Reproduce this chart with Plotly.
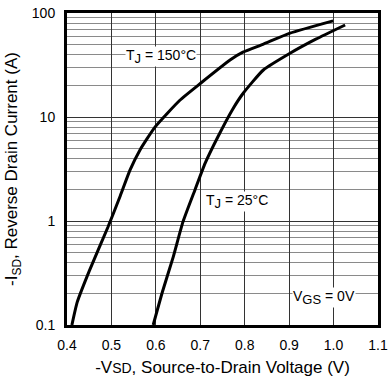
import plotly.graph_objects as go

# 150 C curve
v150 = [0.411, 0.423, 0.45, 0.492, 0.52, 0.542, 0.564, 0.598, 0.654, 0.70, 0.767, 0.796, 0.841, 0.902, 0.999]
i150 = [0.10, 0.166, 0.33, 0.87, 1.75, 3.1, 4.8, 8.0, 14.5, 21.0, 35.3, 42.0, 50.0, 64.0, 84.0]
# 25 C curve
v25 = [0.594, 0.615, 0.639, 0.661, 0.688, 0.711, 0.74, 0.772, 0.797, 0.842, 0.902, 0.96, 1.026]
i25 = [0.10, 0.21, 0.45, 0.98, 1.99, 3.6, 6.5, 11.7, 17.0, 28.3, 41.0, 56.0, 76.7]

xticks = [0.4, 0.5, 0.6, 0.7, 0.8, 0.9, 1.0, 1.1]
xticktext = ["0.4", "0.5", "0.6", "0.7", "0.8", "0.9", "1.0", "1.1"]
yticks = [0.1, 1, 10, 100]
yticktext = ["0.1", "1", "10", "100"]

FONT = "Liberation Sans, Arial, sans-serif"

fig = go.Figure()
fig.add_trace(go.Scatter(x=v150, y=i150, mode="lines",
                         line=dict(color="black", width=3, shape="spline", smoothing=0.5),
                         showlegend=False))
fig.add_trace(go.Scatter(x=v25, y=i25, mode="lines",
                         line=dict(color="black", width=3, shape="spline", smoothing=0.5),
                         showlegend=False))

fig.update_layout(
    width=390, height=383,
    margin=dict(l=67, r=12, t=13, b=58),
    paper_bgcolor="white", plot_bgcolor="white",
    font=dict(family=FONT, color="black", size=12),
    xaxis=dict(
        range=[0.4, 1.1], tickvals=xticks, ticktext=xticktext,
        showgrid=True, gridcolor="#333333", gridwidth=1,
        showline=True, linecolor="black", linewidth=3, mirror=True,
        ticks="", zeroline=False, ticklabelstandoff=5, automargin=False,
        tickfont=dict(size=14),
        title=dict(text="-V<span style='font-size:14px'>SD</span>, Source-to-Drain Voltage (V)",
                   font=dict(size=17), standoff=10),
    ),
    yaxis=dict(
        type="log", range=[-1, 2], tickvals=yticks, ticktext=yticktext,
        showgrid=True, gridcolor="#333333", gridwidth=1,
        showline=True, linecolor="black", linewidth=3, mirror=True,
        ticks="", zeroline=False, ticklabelstandoff=6, automargin=False,
        tickfont=dict(size=14),
        minor=dict(dtick="D1", showgrid=True, gridcolor="#8a8a8a", gridwidth=1, ticks=""),
        title=dict(text="-I<sub>SD</sub>, Reverse Drain Current (A)", font=dict(size=17), standoff=10),
    ),
)

ann_font = dict(family=FONT, size=14, color="black")
fig.add_annotation(x=0.531, y=1.577, xanchor="left",
                   text="T<sub><span style='font-size:13px'>J</span></sub> = 150°C", showarrow=False,
                   bgcolor="white", font=ann_font, borderpad=0)
fig.add_annotation(x=0.711, y=0.183, xanchor="left",
                   text="T<sub><span style='font-size:13px'>J</span></sub> = 25°C", showarrow=False,
                   bgcolor="white", font=ann_font, borderpad=0)
fig.add_annotation(x=0.907, y=-0.74, xanchor="left",
                   text="V<sub><span style='font-size:13px'>GS</span></sub> = 0V", showarrow=False,
                   bgcolor="white", font=ann_font, borderpad=0)

fig.write_html("out.html")
